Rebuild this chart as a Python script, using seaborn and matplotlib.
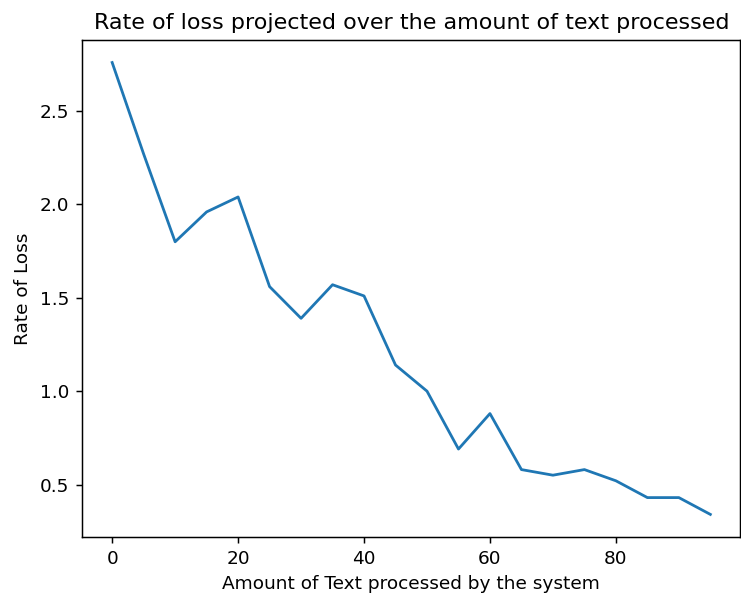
import matplotlib
matplotlib.use('Agg')
import matplotlib.pyplot as plt
import seaborn as sns
import pandas as pd

# Values
text_processed = [0, 5, 10, 15, 20, 25, 30, 35, 40, 45, 50, 55, 60, 65, 70, 75, 80, 85, 90, 95]
loss_rate = [2.76, 2.27, 1.80, 1.96, 2.04, 1.56, 1.39, 1.57, 1.51, 1.14,
             1.00, 0.69, 0.88, 0.58, 0.55, 0.58, 0.52, 0.43, 0.43, 0.34]

df = pd.DataFrame({'text': text_processed, 'loss': loss_rate})

# reference looks like a default matplotlib figure saved at a higher dpi
dpi = 133.33
fig = plt.figure(figsize=(741 / dpi, 596 / dpi), dpi=dpi)
ax = fig.add_axes([0.111, 0.099, 0.888, 0.834])
sns.lineplot(x='text', y='loss', data=df, ax=ax, color='#1f77b4')
ax.set_title('Rate of loss projected over the amount of text processed')
ax.set_xlabel('Amount of Text processed by the system')
ax.set_ylabel('Rate of Loss')
ax.set_yticks([0.5, 1.0, 1.5, 2.0, 2.5])
fig.savefig('out.png', dpi=dpi)
